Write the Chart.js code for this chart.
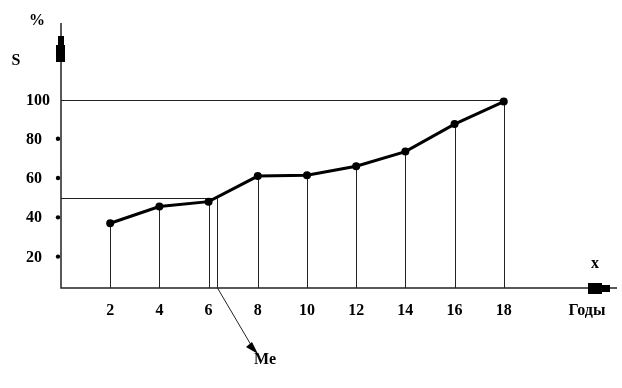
<!DOCTYPE html>
<html>
<head>
<meta charset="utf-8">
<script src="https://cdn.jsdelivr.net/npm/chart.js@4"></script>
<style>
  body { margin: 0; background: #fff; }
</style>
</head>
<body>
<canvas id="cumChart" width="622" height="388"></canvas>
<script>
// years and cumulative share, %
var years = [2, 4, 6, 8, 10, 12, 14, 16, 18];
var shares = [37, 45.5, 48, 61, 61.5, 66, 73.5, 87.5, 99];
var yTicks = [20, 40, 60, 80, 100];
var xTicks = [2, 4, 6, 8, 10, 12, 14, 16, 18];
var medianX = 6.35;
var medianY = 50;

var font = "bold 16px 'Liberation Serif', 'DejaVu Serif', serif";

var axesPlugin = {
  id: "axes",
  beforeDatasetsDraw: function(chart) {
    var ctx = chart.ctx;
    var xs = chart.scales.x, ys = chart.scales.y;
    var x0 = xs.getPixelForValue(0), y0 = ys.getPixelForValue(ys.min);
    ctx.save();
    ctx.strokeStyle = "#222";
    ctx.lineWidth = 1;

    // drop lines
    ctx.beginPath();
    years.forEach(function(v, i) {
      var px = Math.round(xs.getPixelForValue(v)) + 0.5;
      ctx.moveTo(px, ys.getPixelForValue(shares[i]));
      ctx.lineTo(px, y0);
    });
    // 100% line
    var p100 = Math.round(ys.getPixelForValue(100)) + 0.5;
    ctx.moveTo(x0, p100);
    ctx.lineTo(xs.getPixelForValue(years[years.length - 1]), p100);
    // median lines
    var pm = Math.round(ys.getPixelForValue(medianY)) + 0.5;
    var pmx = Math.round(xs.getPixelForValue(medianX)) + 0.5;
    ctx.moveTo(x0, pm);
    ctx.lineTo(pmx, pm);
    ctx.moveTo(pmx, pm);
    ctx.lineTo(pmx, y0);
    ctx.stroke();

    // axes
    ctx.lineWidth = 1.5;
    ctx.beginPath();
    ctx.moveTo(x0, chart.chartArea.top);
    ctx.lineTo(x0, y0);
    ctx.lineTo(617, y0);
    ctx.stroke();

    ctx.fillStyle = "#000";
    // y arrow block
    ctx.fillRect(x0 - 3, 36, 6, 10);
    ctx.fillRect(x0 - 5, 45, 9, 17);
    // x arrow block
    ctx.fillRect(588, y0 - 5, 14, 11);
    ctx.fillRect(601, y0 - 3, 9, 7);

    // Me arrow
    ctx.lineWidth = 1;
    ctx.beginPath();
    ctx.moveTo(pmx, y0);
    ctx.lineTo(254, 350);
    ctx.stroke();
    ctx.beginPath();
    ctx.moveTo(258, 354);
    ctx.lineTo(246, 347);
    ctx.lineTo(252, 342);
    ctx.closePath();
    ctx.fill();

    // labels
    ctx.font = font;
    ctx.textBaseline = "middle";
    ctx.textAlign = "left";
    yTicks.forEach(function(t) {
      var py = ys.getPixelForValue(t);
      ctx.fillText(String(t), 26, py + 1);
      if (t !== 100) {
        ctx.beginPath();
        ctx.arc(x0 - 3, py, 2.2, 0, Math.PI * 2);
        ctx.fill();
      }
    });
    ctx.textAlign = "center";
    xTicks.forEach(function(t) {
      ctx.fillText(String(t), xs.getPixelForValue(t), 311);
    });
    ctx.fillText("%", 37, 21);
    ctx.fillText("S", 16, 61);
    ctx.fillText("x", 595, 264);
    ctx.fillText("Годы", 587, 311);
    ctx.textAlign = "left";
    ctx.fillText("Me", 254, 360);
    ctx.restore();
  }
};

var chart = new Chart(document.getElementById("cumChart").getContext("2d"), {
  type: "scatter",
  data: {
    datasets: [{
      data: years.map(function(v, i) { return { x: v, y: shares[i] }; }),
      showLine: true,
      borderColor: "#000",
      backgroundColor: "#000",
      borderWidth: 3,
      pointBorderWidth: 0,
      pointRadius: 4,
      pointHoverRadius: 4
    }]
  },
  options: {
    responsive: false,
    animation: false,
    events: [],
    layout: { padding: { left: 61, right: 11, top: 23, bottom: 100 } },
    plugins: { legend: { display: false }, tooltip: { enabled: false } },
    scales: {
      x: { type: "linear", min: 0, max: 22.36, display: false },
      y: { type: "linear", min: 4, max: 139, display: false }
    }
  },
  plugins: [axesPlugin]
});
</script>
</body>
</html>
